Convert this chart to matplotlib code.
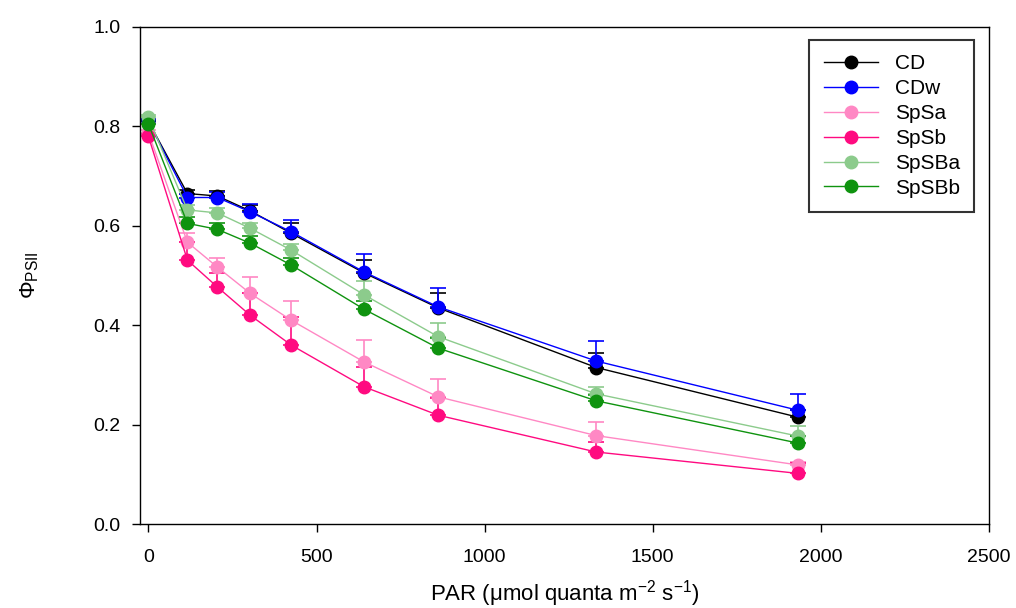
import numpy as np
import matplotlib
matplotlib.use("Agg")
import matplotlib.pyplot as plt
from matplotlib.lines import Line2D

plt.rcParams['font.family'] = ['Liberation Sans', 'DejaVu Sans']
plt.rcParams['mathtext.fontset'] = 'custom'
plt.rcParams['mathtext.rm'] = 'Liberation Sans'
plt.rcParams['mathtext.it'] = 'Liberation Sans'

# PAR levels
par = [0, 116, 205, 303, 425, 642, 862, 1332, 1932]

# mean PhiPSII per treatment
cd     = [0.810, 0.665, 0.660, 0.630, 0.585, 0.505, 0.435, 0.315, 0.215]
cdw    = [0.810, 0.657, 0.657, 0.628, 0.588, 0.507, 0.437, 0.328, 0.229]
spsa   = [0.787, 0.567, 0.517, 0.464, 0.410, 0.326, 0.256, 0.178, 0.119]
spsb   = [0.780, 0.531, 0.477, 0.420, 0.360, 0.276, 0.219, 0.145, 0.102]
spsba  = [0.818, 0.632, 0.626, 0.595, 0.551, 0.461, 0.377, 0.262, 0.177]
spsbb  = [0.805, 0.605, 0.593, 0.565, 0.521, 0.432, 0.354, 0.248, 0.163]

# upper error (SE)
cd_err    = [0.005, 0.008, 0.010, 0.012, 0.020, 0.026, 0.030, 0.030, 0.015]
cdw_err   = [0.005, 0.008, 0.012, 0.015, 0.024, 0.036, 0.038, 0.040, 0.033]
spsa_err  = [0.005, 0.018, 0.018, 0.033, 0.039, 0.044, 0.036, 0.027, 0.006]
spsb_err  = [0.005, 0.036, 0.028, 0.044, 0.057, 0.040, 0.034, 0.020, 0.020]
spsba_err = [0.005, 0.010, 0.010, 0.010, 0.012, 0.028, 0.027, 0.013, 0.020]
spsbb_err = [0.005, 0.012, 0.012, 0.015, 0.015, 0.017, 0.020, 0.012, 0.015]

labels = ['CD', 'CDw', 'SpSa', 'SpSb', 'SpSBa', 'SpSBb']
series = [cd, cdw, spsa, spsb, spsba, spsbb]
errors = [cd_err, cdw_err, spsa_err, spsb_err, spsba_err, spsbb_err]
colors = ['#000000', '#0000FF', '#FF88C4', '#FF0A80', '#8CCB8C', '#0F930F']

fig = plt.figure(figsize=(10.16, 6.08), dpi=100)
ax = fig.add_axes([0.1378, 0.138, 0.8356, 0.8176])

handles = []
for y, e, c, lab in zip(series, errors, colors, labels):
    ax.errorbar(par, y, yerr=[np.zeros(len(e)), e], color=c, marker='o',
                markersize=9, linewidth=1.0, elinewidth=1.2, capsize=6,
                capthick=1.2)
    handles.append(Line2D([], [], color=c, marker='o', markersize=9,
                          linewidth=1.0, label=lab))

ax.set_xlim(-25, 2500)
ax.set_ylim(0, 1.0)
ax.set_xticks([0, 500, 1000, 1500, 2000, 2500])
ax.set_yticks([0.0, 0.2, 0.4, 0.6, 0.8, 1.0])
ax.set_yticklabels(['0.0', '0.2', '0.4', '0.6', '0.8', '1.0'])
ax.tick_params(direction='out', length=6, width=1, labelsize=14, pad=8)
ax.tick_params(axis='x', pad=12)
for s in ax.spines.values():
    s.set_linewidth(1.0)

ax.set_xlabel(r'PAR (μmol quanta m$^{-2}$ s$^{-1}$)', fontsize=16, labelpad=9)
ax.set_ylabel(r'$\Phi_{\mathrm{PSII}}$', fontsize=16, labelpad=38)

leg = ax.legend(handles=handles, loc='upper right', fontsize=15, frameon=True,
                fancybox=False, edgecolor='black', handlelength=2.6,
                borderpad=0.7, labelspacing=0.28, handletextpad=0.8,
                bbox_to_anchor=(0.995, 0.995))
leg.get_frame().set_linewidth(1.5)

fig.savefig('out.png', dpi=100)
